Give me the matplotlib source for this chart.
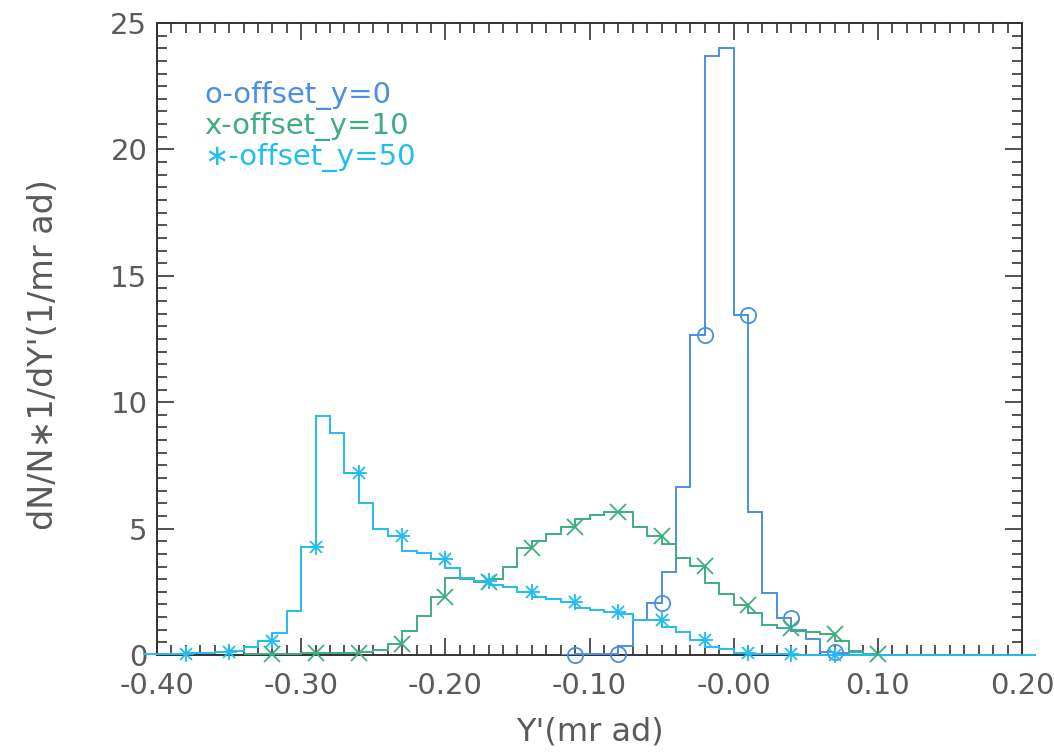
import numpy as np
import matplotlib
matplotlib.use('Agg')
import matplotlib.pyplot as plt
from matplotlib.ticker import MultipleLocator

bin_w = 0.01

# offset_y=0 -> blue, circles (bins of 0.01 starting at blue_start)
blue_start = -0.12
blue_vals = [0.0, 0.02, 0.03, 0.02, 0.35, 1.38, 2.04, 3.30, 6.66, 12.66, 23.7,
             24.0, 13.45, 5.67, 2.47, 1.47, 0.95, 0.65, 0.13, 0.07, 0.15, 0.01]
blue_mk = [-0.11, -0.08, -0.05, -0.02, 0.01, 0.04, 0.07]

# offset_y=10 -> green, crosses
green_start = -0.34
green_vals = [0.03, 0.05, 0.05, 0.05, 0.06, 0.06, 0.07, 0.08, 0.10, 0.20,
              0.42, 0.96, 1.56, 2.31, 3.06, 3.02, 2.88, 2.99, 3.50, 4.25,
              4.52, 4.80, 5.08, 5.37, 5.52, 5.64, 5.67, 5.08, 4.72, 4.40,
              3.82, 3.53, 2.86, 2.40, 1.98, 1.66, 1.20, 1.05, 0.97, 0.92,
              0.82, 0.57, 0.13, 0.02, 0.01]
green_mk = [-0.32, -0.29, -0.26, -0.23, -0.20, -0.17, -0.14, -0.11, -0.08,
            -0.05, -0.02, 0.01, 0.04, 0.07, 0.10]

# offset_y=50 -> cyan, asterisks
cyan_start = -0.41
cyan_vals = [0.02, 0.03, 0.04, 0.06, 0.08, 0.12, 0.15, 0.33, 0.55, 0.88,
             1.74, 4.29, 9.45, 8.80, 7.21, 6.03, 4.98, 4.71, 4.12, 4.05,
             3.79, 3.43, 3.03, 2.92, 2.75, 2.68, 2.49, 2.31, 2.20, 2.10,
             1.86, 1.78, 1.71, 1.64, 1.38, 1.37, 1.12, 0.92, 0.58, 0.33,
             0.22, 0.06, 0.04, 0.03, 0.02, 0.01, 0.01, 0.01, 0.01, 0.0,
             0.0, 0.0, 0.0, 0.0, 0.0, 0.0, 0.0, 0.0, 0.0, 0.0, 0.0, 0.0]
cyan_mk = [-0.38, -0.35, -0.32, -0.29, -0.26, -0.23, -0.20, -0.17, -0.14,
           -0.11, -0.08, -0.05, -0.02, 0.01, 0.04, 0.07]

xticks = [-0.40, -0.30, -0.20, -0.10, 0.0, 0.10, 0.20]
xtick_labels = ['-0.40', '-0.30', '-0.20', '-0.10', '-0.00', '0.10', '0.20']
yticks = [0, 5, 10, 15, 20, 25]

c_blue = '#4a8fe0'
c_green = '#3dae80'
c_cyan = '#22bdf0'
c_text = '#5a5a5a'
c_axis = '#333333'


def edges_of(start, vals):
    return np.round(start + bin_w * np.arange(len(vals) + 1), 2)


def mk_vals(start, vals, mk):
    idx = np.round((np.array(mk) - start) / bin_w).astype(int) - 1
    return np.array(vals)[idx]


fig = plt.figure(figsize=(10.54, 7.54), dpi=100)
ax = fig.add_axes([0.149, 0.1313, 0.8206, 0.8382])

lw = 1.4
ax.stairs(blue_vals, edges_of(blue_start, blue_vals), baseline=None,
          color=c_blue, lw=lw, zorder=3)
ax.plot(blue_mk, mk_vals(blue_start, blue_vals, blue_mk), 'o', ms=11,
        mfc='none', mec=c_blue, mew=1.3, zorder=4, clip_on=False)

ax.stairs(green_vals, edges_of(green_start, green_vals), baseline=None,
          color=c_green, lw=lw, zorder=3)
ax.plot(green_mk, mk_vals(green_start, green_vals, green_mk), 'x', ms=11,
        mec=c_green, mew=1.3, zorder=4, clip_on=False)

ax.stairs(cyan_vals, edges_of(cyan_start, cyan_vals), baseline=None,
          color=c_cyan, lw=lw, zorder=3, clip_on=False)
cy = mk_vals(cyan_start, cyan_vals, cyan_mk)
ax.plot(cyan_mk, cy, '+', ms=12, mec=c_cyan, mew=1.3, zorder=4, clip_on=False)
ax.plot(cyan_mk, cy, 'x', ms=9, mec=c_cyan, mew=1.3, zorder=4, clip_on=False)

ax.set_xlim(-0.40, 0.20)
ax.set_ylim(0, 25)
ax.set_xticks(xticks, xtick_labels)
ax.set_yticks(yticks)
ax.xaxis.set_minor_locator(MultipleLocator(0.01))
ax.yaxis.set_minor_locator(MultipleLocator(0.5))
ax.tick_params(which='both', direction='in', top=True, right=True,
               color=c_axis, width=1.2, labelcolor=c_text, labelsize=21)
ax.tick_params(which='major', length=12)
ax.tick_params(which='minor', length=7)
ax.tick_params(axis='x', pad=12)
ax.tick_params(axis='y', pad=7)
for s in ax.spines.values():
    s.set_color(c_axis)
    s.set_linewidth(1.4)

ax.set_xlabel("Y'(mr ad)", fontsize=23, color=c_text)
ax.xaxis.set_label_coords(0.5, -0.098)
ax.set_ylabel("dN/N\u22171/dY'(1/mr ad)", fontsize=24, color=c_text)
ax.yaxis.set_label_coords(-0.112, 0.475)

ax.text(-0.367, 22.15, 'o-offset_y=0', color=c_blue, fontsize=21, va='center')
ax.text(-0.367, 20.9, 'x-offset_y=10', color=c_green, fontsize=21, va='center')
ax.text(-0.367, 19.66, '\u2217-offset_y=50', color=c_cyan, fontsize=21, va='center')

plt.savefig('out.png', dpi=100)
